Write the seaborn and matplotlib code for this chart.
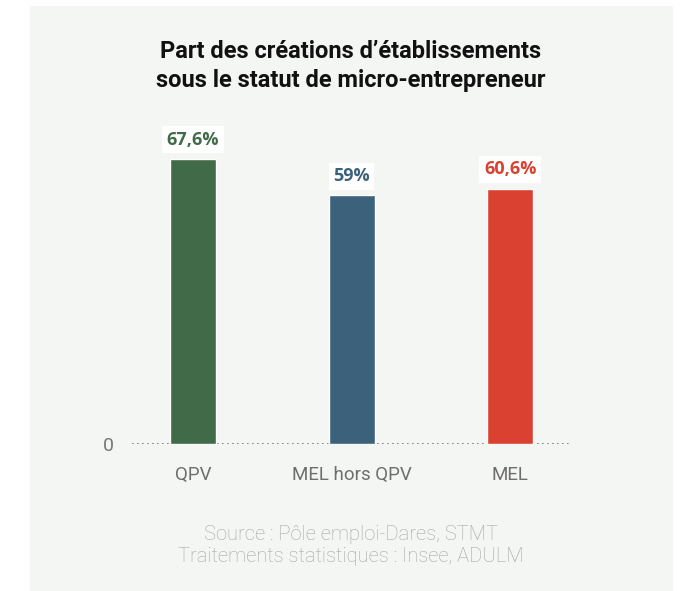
import matplotlib
matplotlib.use("Agg")
import pandas as pd
import seaborn as sns
import matplotlib.pyplot as plt
from matplotlib.patches import Rectangle

categories = ["QPV", "MEL hors QPV", "MEL"]
values = [67.6, 59.0, 60.6]
value_labels = ["67,6%", "59%", "60,6%"]
colors = ["#416b48", "#3b627a", "#db4130"]

df = pd.DataFrame({"zone": categories, "part": values})

sns.set_style("white")
plt.rcParams["font.family"] = ["Roboto", "DejaVu Sans"]

bg = "#f4f6f3"
fig = plt.figure(figsize=(6.9, 5.91), dpi=100)
fig.patch.set_facecolor("white")
fig.patches.append(Rectangle((30 / 690, 0), (673 - 30) / 690, 1 - 6 / 591,
                             transform=fig.transFigure, facecolor=bg,
                             edgecolor="none", zorder=-5))

ax = fig.add_axes([132 / 690, 1 - 444 / 591, (572 - 132) / 690, 337 / 591])
ax.set_facecolor("none")
ax.set_zorder(2)
sns.barplot(data=df, x="zone", y="part", hue="zone", palette=colors,
            width=0.29, legend=False, ax=ax, saturation=1)

ax.set_ylim(0, 80)
ax.set_xlim(-0.385, 2.39)
for s in ax.spines.values():
    s.set_visible(False)
ax.axhline(0, color="#777777", lw=1.2, ls=(0, (1, 2)), zorder=0)

ax.set_xlabel("")
ax.set_ylabel("")
ax.set_yticks([0])
ax.set_yticklabels(["0"], fontsize=14, color="#777777")
ax.tick_params(axis="y", length=0, pad=13)
ax.tick_params(axis="x", length=0, pad=16, labelsize=13.5, labelcolor="#6e6e6e")

for i, (v, lab) in enumerate(zip(values, value_labels)):
    ax.annotate(lab, (i, v), xytext=(0, 14), textcoords="offset points",
                ha="center", va="center", fontsize=13, fontweight="bold",
                color=colors[i], family=["Open Sans", "DejaVu Sans"],
                bbox=dict(boxstyle="square,pad=0.25", fc="white", ec="none"))

fig.text(351 / 690, 1 - 52 / 591, "Part des créations d’établissements",
         ha="center", va="center", fontsize=17, fontweight="bold", color="#111111")
fig.text(351 / 690, 1 - 80 / 591, "sous le statut de micro-entrepreneur",
         ha="center", va="center", fontsize=17, fontweight="bold", color="#111111")

fig.text(351 / 690, 1 - 535 / 591, "Source : Pôle emploi-Dares, STMT",
         ha="center", va="center", fontsize=14.5, fontweight="light", color="#a5a5a5")
fig.text(351 / 690, 1 - 557 / 591, "Traitements statistiques : Insee, ADULM",
         ha="center", va="center", fontsize=14.5, fontweight="light", color="#a5a5a5")

plt.savefig("out.png", dpi=100, facecolor=fig.get_facecolor())
